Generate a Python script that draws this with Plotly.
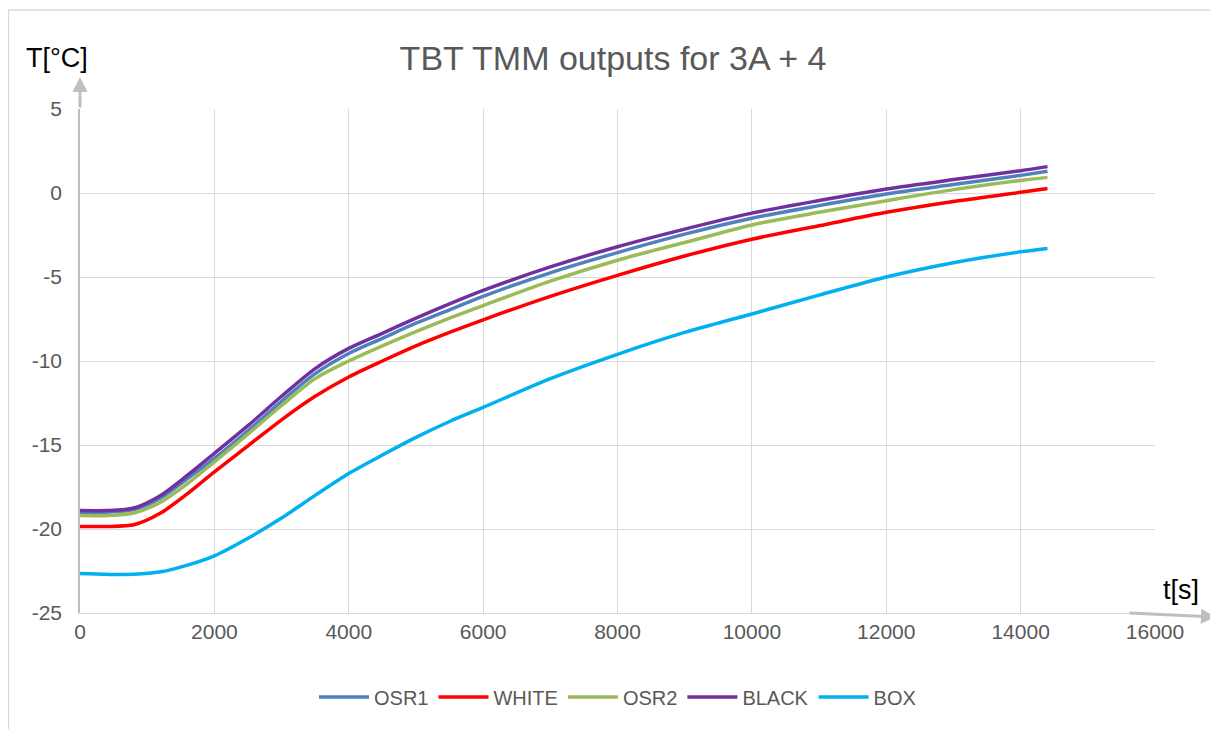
import plotly.graph_objects as go

t = [0, 400, 800, 1200, 1600, 2000, 2500, 3000, 3500, 4000, 4500, 5000, 5500, 6000,
     7000, 8000, 9000, 10000, 11000, 12000, 13000, 14000, 14400]

osr1 = [-19.0, -19.0, -18.85, -18.15, -17.0, -15.8, -14.15, -12.4, -10.75, -9.55, -8.65, -7.75, -6.95, -6.15,
        -4.75, -3.55, -2.45, -1.5, -0.75, -0.06, 0.5, 1.05, 1.29]
white = [-19.85, -19.85, -19.75, -19.05, -17.9, -16.6, -15.05, -13.5, -12.1, -10.95, -10.0, -9.1, -8.3, -7.55,
         -6.15, -4.9, -3.75, -2.75, -1.95, -1.15, -0.5, 0.04, 0.27]
osr2 = [-19.2, -19.2, -19.05, -18.4, -17.3, -16.0, -14.35, -12.65, -11.05, -10.0, -9.1, -8.25, -7.45, -6.7,
        -5.25, -4.0, -2.95, -1.9, -1.15, -0.46, 0.2, 0.75, 0.93]
black = [-18.9, -18.9, -18.75, -18.0, -16.8, -15.5, -13.85, -12.1, -10.45, -9.25, -8.35, -7.45, -6.6, -5.8,
         -4.4, -3.2, -2.15, -1.2, -0.45, 0.24, 0.8, 1.33, 1.57]
box = [-22.65, -22.7, -22.7, -22.55, -22.15, -21.6, -20.55, -19.35, -18.0, -16.7, -15.6, -14.55, -13.6, -12.76,
       -11.05, -9.6, -8.3, -7.2, -6.08, -5.0, -4.15, -3.5, -3.3]

series = [("OSR1", osr1, "#4F81BD"), ("WHITE", white, "#FF0000"), ("OSR2", osr2, "#9BBB59"),
          ("BLACK", black, "#7030A0"), ("BOX", box, "#00B0F0")]

x_ticks = list(range(0, 16001, 2000))
y_ticks = [-25, -20, -15, -10, -5, 0, 5]

FONT = "Liberation Sans"
GRAY = "#595959"

# figure is placed by the page at an 8 px offset
W, H = 1210, 721
L, R, T, B = 72, 63, 101, 116
PW, PH = W - L - R, H - T - B  # 1075 x 504


def px(xs):  # screen x -> paper
    return (xs - 8 - L) / PW


def py(ys):  # screen y -> paper
    return (H - B - (ys - 8)) / PH


fig = go.Figure()
for name, vals, col in series:
    fig.add_trace(go.Scatter(x=t, y=vals, name=name, mode="lines",
                             line=dict(color=col, width=3.5, shape="spline", smoothing=0.8)))

fig.update_layout(
    width=W, height=H,
    margin=dict(l=L, r=R, t=T, b=B),
    paper_bgcolor="white", plot_bgcolor="white",
    font=dict(family=FONT, color=GRAY, size=18),
    title=dict(text="TBT TMM outputs for 3A + 4", x=0.5, xanchor="center",
               y=1 - 50 / H, yanchor="middle", font=dict(size=34, color=GRAY, family=FONT)),
    showlegend=True,
    legend=dict(orientation="h", x=0.5, xanchor="center", y=py(697), yanchor="middle",
                font=dict(size=20, color=GRAY), itemwidth=50, traceorder="normal"),
    xaxis=dict(range=[0, 16000], tickvals=x_ticks, ticktext=[str(v) for v in x_ticks],
               showgrid=True, gridcolor="#d9d9d9", gridwidth=1.3, zeroline=False,
               showline=True, linecolor="#d9d9d9", linewidth=1.3,
               tickfont=dict(size=21, color=GRAY), ticks="", ticklen=0),
    yaxis=dict(range=[-25, 5], tickvals=y_ticks, ticktext=[str(v) for v in y_ticks],
               showgrid=True, gridcolor="#d9d9d9", gridwidth=1.3, zeroline=False,
               showline=True, linecolor="#bfbfbf", linewidth=1.5,
               tickfont=dict(size=21, color=GRAY), ticks="outside", ticklen=12, tickcolor="white"),
)

# chart border
fig.add_shape(type="rect", xref="paper", yref="paper",
              x0=px(8.5), x1=px(1216), y0=py(740), y1=py(10),
              line=dict(color="#d9d9d9", width=1.3), fillcolor="rgba(0,0,0,0)", layer="below")

# axis arrows
fig.add_annotation(xref="paper", yref="paper", x=0, y=py(77), ax=0, ay=32,
                   text="", showarrow=True, arrowhead=2, arrowsize=1, arrowwidth=3,
                   arrowcolor="#bfbfbf")
fig.add_annotation(xref="paper", yref="paper", x=px(1216), y=py(617), ax=-88, ay=-4,
                   text="", showarrow=True, arrowhead=2, arrowsize=1, arrowwidth=3,
                   arrowcolor="#bfbfbf")

# axis titles
fig.add_annotation(xref="paper", yref="paper", x=px(57), y=py(58),
                   text="T[°C]", showarrow=False, xanchor="center", yanchor="middle",
                   font=dict(size=27, color="black", family=FONT))
fig.add_annotation(xref="paper", yref="paper", x=px(1181), y=py(590),
                   text="t[s]", showarrow=False, xanchor="center", yanchor="middle",
                   font=dict(size=27, color="black", family=FONT))

fig.write_html("out.html")
